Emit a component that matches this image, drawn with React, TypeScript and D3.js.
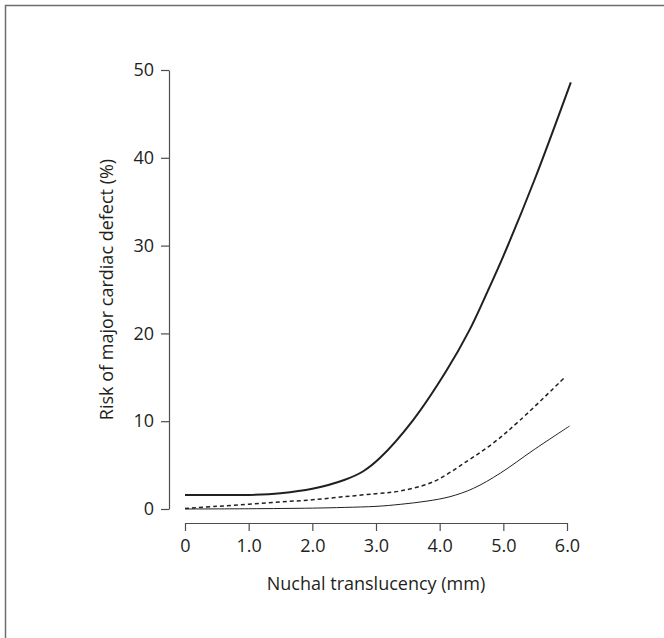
import { useEffect, useRef } from "react";
import * as d3 from "d3";

const WIDTH = 664;
const HEIGHT = 638;

// nuchal translucency (mm) and risk (%)
const upperX = [0, 0.5, 1.0, 1.5, 2.0, 2.5, 2.8, 3.06, 3.58, 4.11, 4.47, 4.76, 5.0, 5.49, 6.06];
const upperY = [1.6, 1.6, 1.6, 1.8, 2.3, 3.3, 4.3, 5.8, 10.1, 15.8, 20.4, 24.9, 28.8, 37.5, 48.6];

const midX = [0, 0.5, 1.0, 1.5, 2.0, 2.5, 3.0, 3.38, 3.9, 4.42, 4.84, 5.26, 5.98];
const midY = [0.05, 0.3, 0.55, 0.8, 1.05, 1.4, 1.75, 2.05, 3.1, 5.4, 7.5, 10.1, 15.1];

const lowerX = [0, 1.0, 2.0, 2.5, 3.0, 3.38, 3.8, 4.16, 4.53, 4.95, 5.47, 6.04];
const lowerY = [0, 0.03, 0.1, 0.18, 0.3, 0.53, 0.9, 1.4, 2.35, 4.07, 6.7, 9.45];

const xTicks = [0, 1, 2, 3, 4, 5, 6];
const xTickLabels = ["0", "1.0", "2.0", "3.0", "4.0", "5.0", "6.0"];
const yTicks = [0, 10, 20, 30, 40, 50];

const FONT = "'Open Sans', sans-serif";
const INK = "#231f20";
const AXIS = "#4d4d4f";

const toPoints = (xs: number[], ys: number[]) => xs.map((x, i) => [x, ys[i]] as [number, number]);

export default function App() {
  const xAxisRef = useRef<SVGGElement>(null);
  const yAxisRef = useRef<SVGGElement>(null);

  const x = d3.scaleLinear().domain([0, 6]).range([185, 567]);
  const y = d3.scaleLinear().domain([0, 50]).range([509, 70]);

  const line = d3
    .line<[number, number]>()
    .x((d) => x(d[0]))
    .y((d) => y(d[1]))
    .curve(d3.curveCatmullRom.alpha(0.5));

  useEffect(() => {
    const xa = d3.select(xAxisRef.current!);
    xa.call(
      d3
        .axisBottom(x)
        .tickValues(xTicks)
        .tickSize(8)
        .tickSizeOuter(0)
        .tickPadding(8)
        .tickFormat((_, i) => xTickLabels[i])
    );
    const ya = d3.select(yAxisRef.current!);
    ya.call(d3.axisLeft(y).tickValues(yTicks).tickSize(8).tickSizeOuter(0).tickPadding(7));

    [xa, ya].forEach((g) => {
      g.attr("font-family", null).attr("font-size", null);
      g.select(".domain").attr("stroke", AXIS).attr("stroke-width", 1.2);
      g.selectAll(".tick line").attr("stroke", AXIS).attr("stroke-width", 1.2);
      g.selectAll(".tick text")
        .attr("fill", INK)
        .style("font-family", FONT)
        .style("font-size", "18px");
    });
  }, []);

  return (
    <svg
      width={WIDTH}
      height={HEIGHT}
      style={{ position: "absolute", left: 0, top: 0, background: "#fff" }}
    >
      <rect x={5.5} y={5.5} width={720} height={720} fill="none" stroke="#6d6e71" strokeWidth={1.5} />

      <g ref={xAxisRef} transform="translate(0,523)" />
      <g ref={yAxisRef} transform="translate(169,0)" />

      <path d={line(toPoints(upperX, upperY)) ?? ""} fill="none" stroke={INK} strokeWidth={2} />
      <path
        d={line(toPoints(midX, midY)) ?? ""}
        fill="none"
        stroke={INK}
        strokeWidth={1.5}
        strokeDasharray="4 3"
      />
      <path d={line(toPoints(lowerX, lowerY)) ?? ""} fill="none" stroke={INK} strokeWidth={1} />

      <text
        x={376}
        y={590}
        textAnchor="middle"
        fill={INK}
        style={{ fontFamily: FONT, fontSize: 18 }}
      >
        Nuchal translucency (mm)
      </text>
      <text
        transform="translate(113,289.5) rotate(-90)"
        textAnchor="middle"
        fill={INK}
        style={{ fontFamily: FONT, fontSize: 18 }}
      >
        Risk of major cardiac defect (%)
      </text>
    </svg>
  );
}
